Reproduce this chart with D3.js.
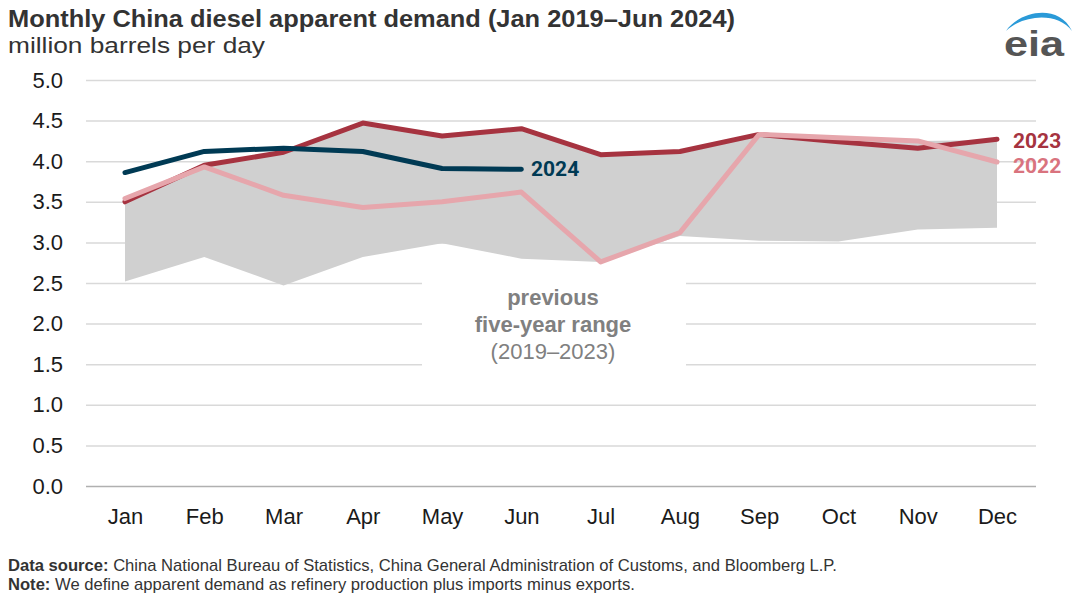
<!DOCTYPE html>
<html>
<head>
<meta charset="utf-8">
<script src="https://cdn.jsdelivr.net/npm/d3@7"></script>
<style>
  body { margin: 0; background: #fff; }
  svg { display: block; font-family: "Liberation Sans", Arial, sans-serif; }
</style>
</head>
<body>
<div id="chart"></div>
<script>
var months = ["Jan","Feb","Mar","Apr","May","Jun","Jul","Aug","Sep","Oct","Nov","Dec"];
var yTicks = [0, 0.5, 1, 1.5, 2, 2.5, 3, 3.5, 4, 4.5, 5];

// previous five-year range (2019-2023)
var rangeLow  = [2.52, 2.82, 2.47, 2.82, 2.99, 2.80, 2.76, 3.08, 3.02, 3.01, 3.16, 3.18];
var rangeHigh = [3.55, 3.96, 4.11, 4.47, 4.31, 4.40, 4.08, 4.12, 4.33, 4.29, 4.25, 4.26];

var y2023 = [3.50, 3.95, 4.11, 4.47, 4.31, 4.40, 4.08, 4.12, 4.33, 4.24, 4.16, 4.27];
var y2022 = [3.54, 3.93, 3.58, 3.43, 3.50, 3.62, 2.76, 3.12, 4.33, 4.29, 4.25, 3.99];
var y2024 = [3.86, 4.12, 4.16, 4.12, 3.91, 3.90];

var width = 1080, height = 598;
var plot = {left: 86, right: 1036, top: 80, bottom: 486};

var svg = d3.select("#chart").append("svg")
    .attr("width", width)
    .attr("height", height);

var x = d3.scalePoint().domain(months).range([125, 997]);
var y = d3.scaleLinear().domain([0, 5]).range([plot.bottom, plot.top]);

// gridlines
svg.append("g")
    .attr("transform", "translate(" + plot.left + ",0)")
    .call(d3.axisLeft(y).tickValues(yTicks).tickSize(-(plot.right - plot.left)).tickFormat(""))
    .call(g => g.select(".domain").remove())
    .call(g => g.selectAll("line")
        .attr("stroke", function(d){ return d === 0 ? "#b0b0b0" : "#d9d9d9"; })
        .attr("stroke-width", 1.5));

// y labels
svg.append("g")
    .attr("transform", "translate(" + plot.left + ",0)")
    .call(d3.axisLeft(y).tickValues(yTicks).tickSize(0).tickPadding(23).tickFormat(d3.format(".1f")))
    .call(g => g.select(".domain").remove())
    .call(g => g.selectAll("text")
        .attr("font-size", 22)
        .attr("fill", "#1a1a1a")
        .attr("font-family", "Liberation Sans, Arial, sans-serif"));

// x labels
svg.append("g")
    .attr("transform", "translate(0," + plot.bottom + ")")
    .call(d3.axisBottom(x).tickSize(0).tickPadding(22))
    .call(g => g.select(".domain").remove())
    .call(g => g.selectAll("text")
        .attr("font-size", 22)
        .attr("fill", "#1a1a1a")
        .attr("font-family", "Liberation Sans, Arial, sans-serif"));

// range band
var area = d3.area()
    .x(function(d, i){ return x(months[i]); })
    .y0(function(d, i){ return y(rangeLow[i]); })
    .y1(function(d){ return y(d); });

svg.append("path")
    .datum(rangeHigh)
    .attr("d", area)
    .attr("fill", "#d0d0d0");

// white box behind the range label
svg.append("rect")
    .attr("x", 422)
    .attr("y", 268)
    .attr("width", 264)
    .attr("height", 106)
    .attr("fill", "#fff");

var label = svg.append("text")
    .attr("text-anchor", "middle")
    .attr("fill", "#808080")
    .attr("font-size", 22);
label.append("tspan").attr("x", 553).attr("y", 305).attr("font-weight", "bold").text("previous");
label.append("tspan").attr("x", 553).attr("y", 332).attr("font-weight", "bold").text("five-year range");
label.append("tspan").attr("x", 553).attr("y", 359).text("(2019\u20132023)");

var line = d3.line()
    .x(function(d, i){ return x(months[i]); })
    .y(function(d){ return y(d); });

var series = [
    {name: "2023", data: y2023, color: "#a63340"},
    {name: "2022", data: y2022, color: "#e6a6ac"},
    {name: "2024", data: y2024, color: "#003a54"}
];

svg.selectAll(".series")
    .data(series)
    .enter()
    .append("path")
        .attr("class", "series")
        .attr("d", function(d){ return line(d.data); })
        .attr("fill", "none")
        .attr("stroke", function(d){ return d.color; })
        .attr("stroke-width", 5)
        .attr("stroke-linecap", "round")
        .attr("stroke-linejoin", "round");

// series labels
svg.append("text")
    .attr("x", 1013).attr("y", 148)
    .attr("font-family", "Roboto, sans-serif").attr("font-weight", "bold")
    .attr("font-size", 21).attr("fill", "#a63340")
    .text("2023");
svg.append("text")
    .attr("x", 1013).attr("y", 173)
    .attr("font-family", "Roboto, sans-serif").attr("font-weight", "bold")
    .attr("font-size", 21).attr("fill", "#d9737e")
    .text("2022");
svg.append("text")
    .attr("x", 531).attr("y", 176)
    .attr("font-family", "Roboto, sans-serif").attr("font-weight", "bold")
    .attr("font-size", 21).attr("fill", "#003a54")
    .text("2024");

// title
svg.append("text")
    .attr("x", 8).attr("y", 27)
    .attr("font-size", 23).attr("font-weight", "bold").attr("fill", "#333")
    .attr("textLength", 727).attr("lengthAdjust", "spacingAndGlyphs")
    .text("Monthly China diesel apparent demand (Jan 2019\u2013Jun 2024)");
svg.append("text")
    .attr("x", 8).attr("y", 53)
    .attr("font-size", 22).attr("fill", "#333")
    .attr("textLength", 257).attr("lengthAdjust", "spacingAndGlyphs")
    .text("million barrels per day");

// eia logo
svg.append("path")
    .attr("d", "M1006,31 C1018,12 1058,2 1072,31 C1058,12 1024,14 1006,31 Z")
    .attr("fill", "#2a9ad8");
svg.append("text")
    .attr("x", 1004).attr("y", 56)
    .attr("font-size", 35).attr("font-weight", "bold").attr("fill", "#555")
    .attr("textLength", 60).attr("lengthAdjust", "spacingAndGlyphs")
    .text("eia");

// footer
var f1 = svg.append("text").attr("x", 8).attr("y", 571).attr("font-size", 16.6).attr("fill", "#333");
f1.append("tspan").attr("font-weight", "bold").text("Data source: ");
f1.append("tspan").text("China National Bureau of Statistics, China General Administration of Customs, and Bloomberg L.P.");
var f2 = svg.append("text").attr("x", 8).attr("y", 590).attr("font-size", 16.6).attr("fill", "#333");
f2.append("tspan").attr("font-weight", "bold").text("Note: ");
f2.append("tspan").text("We define apparent demand as refinery production plus imports minus exports.");
</script>
</body>
</html>
